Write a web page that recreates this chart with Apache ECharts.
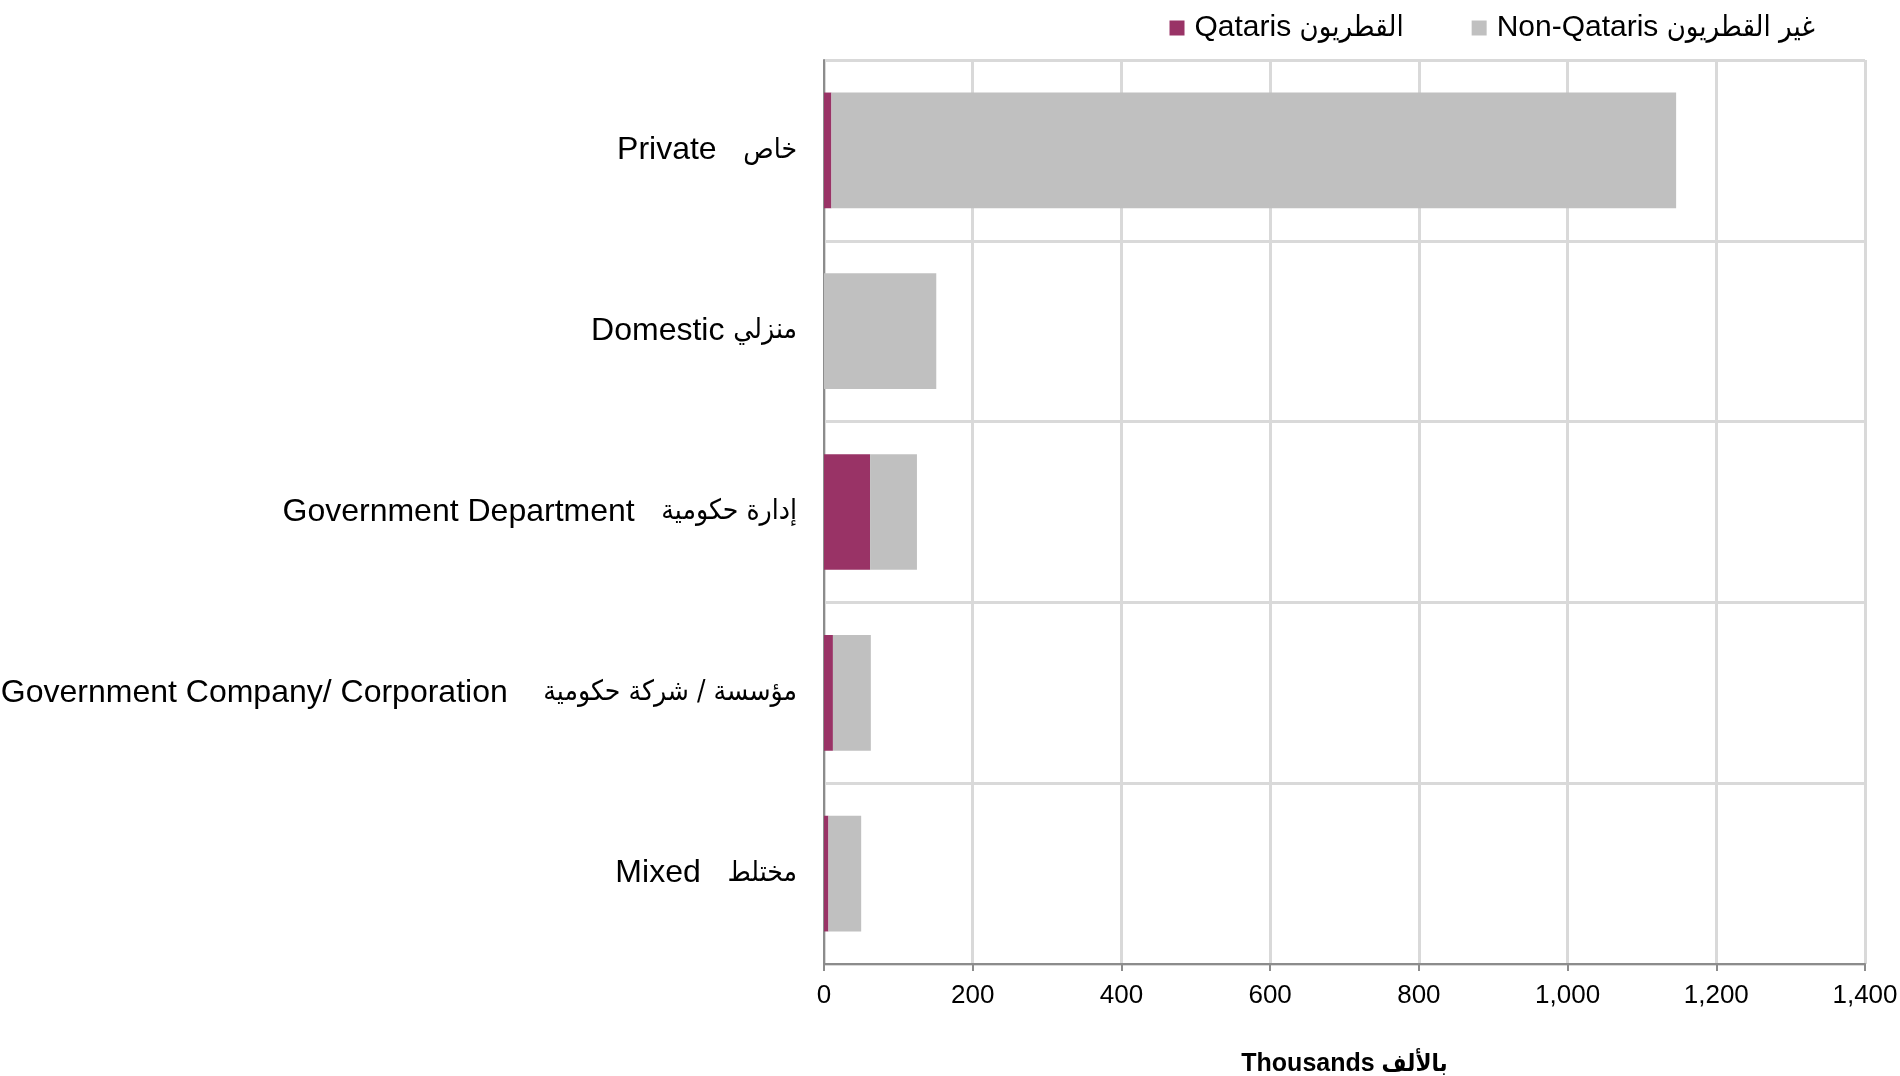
<!DOCTYPE html>
<html>
<head>
<meta charset="utf-8">
<script src="https://cdn.jsdelivr.net/npm/echarts@6/dist/echarts.min.js"></script>
<style>
html,body{margin:0;padding:0;background:#fff;}
#chart{width:1900px;height:1076px;}
</style>
</head>
<body>
<div id="chart"></div>
<script>
const categories = [
  'Private   خاص',
  'Domestic منزلي',
  'Government Department   إدارة حكومية',
  'Government Company/ Corporation    مؤسسة / شركة حكومية',
  'Mixed   مختلط'
];
const seriesNames = ['Qataris القطريون', 'Non-Qataris غير القطريون'];
const qataris = [10, 0, 62, 12, 6];
const nonQataris = [1136, 151, 63, 51, 44];
const xTicks = [0, 200, 400, 600, 800, 1000, 1200, 1400];
const axisTitle = 'Thousands بالألف';

const FONT = '"Liberation Sans", Arial, "DejaVu Sans", sans-serif';
const AFONT = '"DejaVu Sans Condensed", "DejaVu Sans", sans-serif';

// split a mixed label into its Latin and Arabic parts for separate styling
function splitRich(s) {
  const i = s.search(/[\u0600-\u06FF]/);
  if (i < 0) return '{en|' + s + '}';
  return '{en|' + s.slice(0, i) + '}{ar|' + s.slice(i) + '}';
}

const chart = echarts.init(document.getElementById('chart'), null, {renderer: 'canvas'});
chart.setOption({
  animation: false,
  backgroundColor: '#ffffff',
  textStyle: {fontFamily: FONT, color: '#000'},
  legend: {
    data: seriesNames,
    right: 80,
    top: 8,
    itemWidth: 15,
    itemHeight: 15,
    itemGap: 68,
    icon: 'rect',
    formatter: splitRich,
    textStyle: {
      fontSize: 30, color: '#000', fontFamily: FONT, padding: [0, 0, 0, 5],
      rich: {
        en: {fontSize: 30, fontFamily: FONT, color: '#000'},
        ar: {fontSize: 29, fontFamily: AFONT, color: '#000'}
      }
    }
  },
  grid: {left: 824, right: 35, top: 60, bottom: 112, containLabel: false, outerBoundsMode: 'none'},
  xAxis: {
    type: 'value',
    min: xTicks[0],
    max: xTicks[xTicks.length - 1],
    interval: xTicks[1] - xTicks[0],
    axisLine: {show: true, lineStyle: {color: '#8c8c8c', width: 2}},
    axisTick: {show: true, length: 7, lineStyle: {color: '#8c8c8c', width: 2}},
    splitLine: {show: true, lineStyle: {color: '#d9d9d9', width: 3}},
    axisLabel: {
      fontSize: 26, color: '#000', margin: 19, fontFamily: FONT,
      formatter: v => Number(v).toLocaleString('en-US')
    },
    name: splitRich(axisTitle),
    nameLocation: 'middle',
    nameGap: 88,
    nameTextStyle: {
      fontSize: 25, fontWeight: 'bold', color: '#000', fontFamily: FONT,
      rich: {
        en: {fontSize: 25, fontWeight: 'bold', fontFamily: FONT, color: '#000'},
        ar: {fontSize: 24, fontWeight: 'bold', fontFamily: AFONT, color: '#000'}
      }
    }
  },
  yAxis: {
    type: 'category',
    data: categories,
    inverse: true,
    axisLine: {show: true, lineStyle: {color: '#8c8c8c', width: 2}},
    axisTick: {show: false},
    splitLine: {show: true, lineStyle: {color: '#d9d9d9', width: 3}},
    axisLabel: {
      fontSize: 32, color: '#000', margin: 27, fontFamily: FONT,
      formatter: splitRich,
      rich: {
        en: {fontSize: 32, fontFamily: FONT, color: '#000'},
        ar: {fontSize: 28, fontFamily: AFONT, color: '#000'}
      }
    }
  },
  series: [
    {
      name: seriesNames[0], type: 'bar', stack: 'total', data: qataris,
      barCategoryGap: '36%',
      itemStyle: {color: '#993366'}
    },
    {
      name: seriesNames[1], type: 'bar', stack: 'total', data: nonQataris,
      barCategoryGap: '36%',
      itemStyle: {color: '#c0c0c0'}
    }
  ]
});
</script>
</body>
</html>
